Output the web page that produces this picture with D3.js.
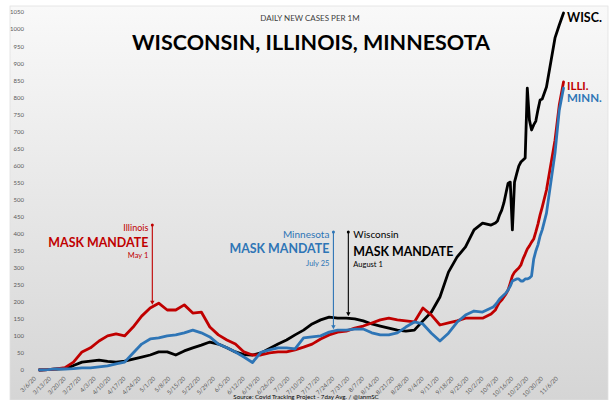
<!DOCTYPE html>
<html>
<head>
<meta charset="utf-8">
<script src="https://cdn.jsdelivr.net/npm/d3@7"></script>
<style>
  html, body { margin: 0; padding: 0; background: #fff; }
  svg { display: block; font-family: Lato, Calibri, "Open Sans", sans-serif; }
</style>
</head>
<body>
<svg id="chart" width="615" height="400"></svg>
<script>
// Daily new cases per 1M, 7-day avg
const dates = [
  "3/9","3/13","3/17","3/21","3/25","3/29","4/2","4/6","4/10","4/14","4/18","4/22","4/26","4/30",
  "5/4","5/8","5/12","5/16","5/20","5/24","5/28","6/1","6/5","6/9","6/13","6/17","6/21","6/25","6/29",
  "7/3","7/7","7/11","7/15","7/19","7/23","7/27","7/31","8/4","8/8","8/12","8/16","8/20","8/24","8/28",
  "9/1","9/5","9/9","9/13","9/17","9/21","9/25","9/29","10/3","10/7",
  "10/8","10/9","10/10","10/11","10/12","10/13","10/14","10/15","10/16","10/17","10/18","10/19",
  "10/20","10/21","10/22","10/23","10/24","10/25","10/26","10/27","10/28","10/29","10/30","10/31",
  "11/2","11/6","11/8","11/10"
];

const wisconsin = [
  0,1,3,4,13,23,26,29,25,23,26,32,38,44,
  53,53,44,56,65,73,82,76,65,53,45,44,50,63,76,
  88,103,117,135,147,155,152,152,150,144,135,129,123,117,114,
  117,144,170,214,287,331,361,411,431,425,
  428,431,437,455,469,490,519,548,551,411,551,575,
  598,610,616,622,827,733,704,719,730,763,792,795,
  830,974,1012,1047
];

const illinois = [
  0,1,3,7,23,53,65,85,100,106,100,126,158,182,
  196,176,176,191,167,170,126,103,88,76,53,44,44,50,53,
  53,59,67,76,91,103,111,114,123,129,138,147,152,147,144,
  141,182,161,132,138,144,152,152,152,164,
  170,176,188,199,205,214,223,235,255,276,287,293,
  299,308,326,340,355,364,375,384,405,428,455,478,
  528,674,777,845
];

const minnesota = [
  0,1,3,3,4,6,6,9,12,18,23,50,76,91,
  94,100,103,109,117,109,97,76,65,53,38,22,52,59,65,
  65,62,94,97,100,111,117,117,120,120,109,103,103,109,126,
  141,135,108,85,108,140,161,173,170,182,
  185,191,199,208,214,220,226,235,246,261,264,267,
  267,261,261,267,267,270,276,325,349,367,393,411,
  460,636,762,827
];

const yTicks = d3.range(0, 1051, 50);

const seriesNames  = ["Wisconsin", "Illinois", "Minnesota"];
const seriesColors = ["#000000", "#c00000", "#2e75b6"];
const endLabels    = ["WISC.", "ILLI.", "MINN."];

const mandateDates = ["5/1", "7/25", "8/1"];       // Illinois, Minnesota, Wisconsin
const mandateNote  = ["May 1", "July 25", "August 1"];

// ───────────────────────────────────────────────
const W = 615, H = 400;
const parse = s => d3.timeParse("%m/%d/%Y")(s + "/2020");
const svg = d3.select("#chart");

// background panel (soft vertical gradient like the Excel chart)
const defs = svg.append("defs");
const grad = defs.append("linearGradient").attr("id", "bg")
  .attr("x1", 0).attr("y1", 0).attr("x2", 0).attr("y2", 1);
grad.append("stop").attr("offset", "0%").attr("stop-color", "#f9f9f9");
grad.append("stop").attr("offset", "100%").attr("stop-color", "#d5d5d5");

svg.append("rect").attr("width", W).attr("height", H).attr("fill", "#fff");
svg.append("rect").attr("x", 10).attr("y", 6).attr("width", 598).attr("height", 394)
  .attr("fill", "url(#bg)").attr("stroke", "#e2e2e2").attr("stroke-width", 0.8);

const x = d3.scaleTime().domain([parse("3/6"), parse("11/6")]).range([33, 555]);
const y = d3.scaleLinear().domain([0, 1050]).range([370, 12]);

// y axis labels
const yAxis = svg.append("g").attr("transform", "translate(24,0)")
  .call(d3.axisLeft(y).tickValues(yTicks).tickFormat(d3.format("d")).tickSize(0).tickPadding(0));
yAxis.select(".domain").remove();
yAxis.selectAll("text").attr("font-size", 6).attr("fill", "#595959")
  .attr("font-family", "Lato, Calibri, sans-serif");

// x axis labels, weekly, rotated
const weekly = d3.timeDay.range(parse("3/6"), d3.timeDay.offset(parse("11/6"), 1), 7);
const xAxis = svg.append("g").attr("transform", "translate(0,376)")
  .call(d3.axisBottom(x).tickValues(weekly).tickFormat(d3.timeFormat("%-m/%-d/%y"))
    .tickSize(0).tickPadding(0));
xAxis.select(".domain").remove();
xAxis.selectAll("text")
  .attr("font-size", 6).attr("fill", "#595959")
  .attr("font-family", "Lato, Calibri, sans-serif")
  .attr("x", 0).attr("y", 0).attr("dy", "0.7em")
  .attr("text-anchor", "end").attr("transform", "rotate(-45)");

// series
const rows = seriesNames.map((name, i) => ({
  name, color: seriesColors[i], label: endLabels[i],
  values: dates.map((d, j) => ({ date: parse(d), v: [wisconsin, illinois, minnesota][i][j] }))
}));

const line = d3.line().x(d => x(d.date)).y(d => y(d.v));
svg.append("g").selectAll("path")
  .data(rows)
  .join("path")
  .attr("d", d => line(d.values))
  .attr("fill", "none")
  .attr("stroke", d => d.color)
  .attr("stroke-width", 2.8)
  .attr("stroke-linejoin", "round")
  .attr("stroke-linecap", "round");

// end labels
const endY = [22, 90, 102];
rows.forEach((r, i) => {
  svg.append("text").attr("x", 567).attr("y", endY[i])
    .attr("font-size", i === 0 ? 12.5 : 11.5).attr("font-weight", 700)
    .attr("fill", r.color).text(r.label);
});

// titles
svg.append("text").attr("x", 310).attr("y", 20.5).attr("text-anchor", "middle")
  .attr("font-size", 8).attr("fill", "#404040").text("DAILY NEW CASES PER 1M");
svg.append("text").attr("x", 311).attr("y", 50).attr("text-anchor", "middle")
  .attr("font-size", 21).attr("font-weight", 700).attr("fill", "#000")
  .attr("textLength", 358).attr("lengthAdjust", "spacingAndGlyphs")
  .text("WISCONSIN, ILLINOIS, MINNESOTA");

svg.append("text").attr("x", 306).attr("y", 398.5).attr("text-anchor", "middle")
  .attr("font-size", 6.2).attr("fill", "#000")
  .text("Source: Covid Tracking Project - 7day Avg. / @ianmSC");

// mandate annotations
const valueAt = (series, dateStr) => {
  const t = parse(dateStr);
  const ds = dates.map(parse);
  const i = d3.bisectLeft(ds, t);
  const a = Math.max(0, i - 1), b = Math.min(ds.length - 1, i);
  if (a === b) return series[a];
  const f = (t - ds[a]) / (ds[b] - ds[a]);
  return series[a] + f * (series[b] - series[a]);
};

function mandate(opts) {
  const g = svg.append("g").attr("fill", opts.color);
  const lx = x(parse(opts.date));
  const tipY = y(valueAt(opts.series, opts.date)) - 2;
  g.append("line").attr("x1", lx).attr("x2", lx).attr("y1", opts.top).attr("y2", tipY - 3)
    .attr("stroke", opts.color).attr("stroke-width", 1.1);
  g.append("circle").attr("cx", lx).attr("cy", opts.top).attr("r", 1.5);
  g.append("path").attr("d", `M${lx - 2.2},${tipY - 4}L${lx + 2.2},${tipY - 4}L${lx},${tipY}Z`);
  const tx = opts.anchor === "end" ? lx - 4 : lx + 5;
  g.append("text").attr("x", tx).attr("y", opts.top + 5.5).attr("text-anchor", opts.anchor)
    .attr("font-size", opts.nameSize).text(opts.name);
  g.append("text").attr("x", tx).attr("y", opts.top + opts.mmDy).attr("text-anchor", opts.anchor)
    .attr("font-size", 13).attr("font-weight", 700)
    .attr("textLength", 100).attr("lengthAdjust", "spacingAndGlyphs").text("MASK MANDATE");
  g.append("text").attr("x", tx).attr("y", opts.top + opts.noteDy).attr("text-anchor", opts.anchor)
    .attr("font-size", 7.5).text(opts.note);
}

mandate({ name: "Illinois", date: mandateDates[0], note: mandateNote[0], series: illinois,
  color: seriesColors[1], top: 225, anchor: "end", nameSize: 9, mmDy: 22, noteDy: 33 });
mandate({ name: "Minnesota", date: mandateDates[1], note: mandateNote[1], series: minnesota,
  color: seriesColors[2], top: 232, anchor: "end", nameSize: 10, mmDy: 21, noteDy: 34 });
mandate({ name: "Wisconsin", date: mandateDates[2], note: mandateNote[2], series: wisconsin,
  color: seriesColors[0], top: 232, anchor: "start", nameSize: 10, mmDy: 24, noteDy: 35 });
</script>
</body>
</html>
